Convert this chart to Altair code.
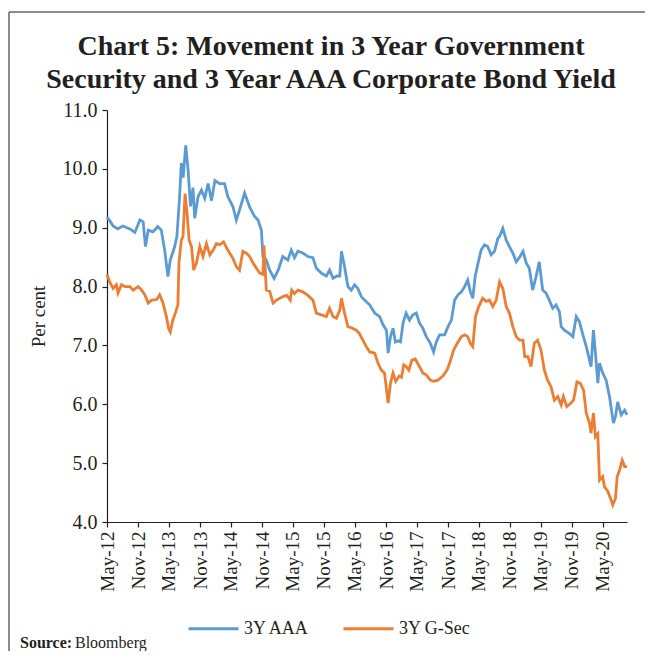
import altair as alt
import pandas as pd

# ---------------- data ----------------
aaa_dates = [
    "2012-05-01", "2012-05-17", "2012-06-06", "2012-07-03", "2012-08-02", "2012-09-13",
    "2012-10-12", "2012-11-11", "2012-11-30", "2012-12-14", "2012-12-30", "2013-01-27",
    "2013-02-24", "2013-03-17", "2013-04-06", "2013-04-25", "2013-05-09", "2013-06-04",
    "2013-06-17", "2013-07-03", "2013-07-13", "2013-07-24", "2013-08-08", "2013-08-22",
    "2013-09-05", "2013-09-20", "2013-09-30", "2013-10-20", "2013-11-09", "2013-11-28",
    "2013-12-18", "2014-01-07", "2014-01-27", "2014-02-24", "2014-03-25", "2014-04-13",
    "2014-05-13", "2014-06-02", "2014-06-21", "2014-07-21", "2014-08-20", "2014-09-18",
    "2014-10-08", "2014-10-28", "2014-11-06", "2014-11-26", "2014-12-16", "2015-01-11",
    "2015-02-04", "2015-03-03", "2015-04-02", "2015-04-22", "2015-05-11", "2015-05-31",
    "2015-06-29", "2015-07-29", "2015-08-28", "2015-09-17", "2015-10-16", "2015-11-15",
    "2015-12-04", "2015-12-24", "2016-01-17", "2016-02-02", "2016-02-12", "2016-03-01",
    "2016-03-21", "2016-04-10", "2016-04-29", "2016-05-18", "2016-06-08", "2016-06-27",
    "2016-07-27", "2016-08-26", "2016-09-24", "2016-10-14", "2016-11-03", "2016-11-13",
    "2016-11-27", "2016-12-12", "2016-12-26", "2017-01-11", "2017-01-25", "2017-02-09",
    "2017-02-27", "2017-03-19", "2017-04-08", "2017-04-28", "2017-05-17", "2017-06-06",
    "2017-06-26", "2017-07-19", "2017-08-08", "2017-08-24", "2017-09-12", "2017-10-12",
    "2017-11-01", "2017-11-21", "2017-12-10", "2017-12-30", "2018-01-19", "2018-02-07",
    "2018-02-25", "2018-03-13", "2018-03-27", "2018-04-10", "2018-04-25", "2018-05-15",
    "2018-06-04", "2018-06-23", "2018-07-13", "2018-08-02", "2018-08-22", "2018-09-01",
    "2018-09-20", "2018-10-10", "2018-10-29", "2018-11-18", "2018-12-08", "2018-12-28",
    "2019-01-17", "2019-02-05", "2019-02-23", "2019-03-15", "2019-04-04", "2019-04-23",
    "2019-05-13", "2019-06-02", "2019-06-21", "2019-07-11", "2019-07-31", "2019-08-20",
    "2019-08-30", "2019-09-18", "2019-10-18", "2019-11-07", "2019-11-27", "2019-12-16",
    "2020-01-05", "2020-01-25", "2020-02-13", "2020-02-22", "2020-03-07", "2020-03-19",
    "2020-04-02", "2020-04-12", "2020-05-01", "2020-05-21", "2020-06-10", "2020-07-03",
    "2020-07-15", "2020-07-28", "2020-08-18", "2020-09-07", "2020-09-21",
]
aaa_values = [
    9.18, 9.12, 9.03, 8.98, 9.03, 8.98,
    8.92, 9.13, 9.10, 8.68, 8.96, 8.93,
    9.02, 8.96, 8.62, 8.17, 8.45, 8.68,
    8.85, 9.53, 10.10, 9.85, 10.40, 9.98,
    9.36, 9.68, 9.16, 9.53, 9.64, 9.50,
    9.75, 9.46, 9.80, 9.75, 9.75, 9.53,
    9.36, 9.13, 9.30, 9.59, 9.35, 9.19,
    9.13, 8.96, 8.51, 8.45, 8.28, 8.14,
    8.28, 8.51, 8.45, 8.62, 8.49, 8.60,
    8.57, 8.51, 8.49, 8.31, 8.23, 8.18,
    8.28, 8.14, 8.18, 8.18, 8.60, 8.34,
    8.00, 7.94, 8.03, 7.97, 7.83, 7.77,
    7.69, 7.55, 7.49, 7.35, 7.26, 6.87,
    7.15, 7.29, 7.06, 7.08, 7.06, 7.38,
    7.55, 7.43, 7.52, 7.55, 7.38, 7.29,
    7.15, 7.04, 6.89, 7.06, 7.18, 7.18,
    7.32, 7.43, 7.77, 7.86, 7.91, 8.00,
    8.11, 7.91, 7.80, 8.17, 8.37, 8.62,
    8.71, 8.68, 8.54, 8.60, 8.82, 8.85,
    8.99, 8.79, 8.68, 8.57, 8.42, 8.50,
    8.60, 8.40, 8.31, 7.94, 8.17, 8.42,
    7.94, 7.89, 7.77, 7.63, 7.69, 7.57,
    7.32, 7.26, 7.20, 7.15, 7.49, 7.40,
    7.18, 6.98, 6.75, 6.64, 7.26, 6.87,
    6.36, 6.70, 6.53, 6.41, 6.13, 5.68,
    5.79, 6.04, 5.82, 5.90, 5.82,
]

gsec_dates = [
    "2012-05-01", "2012-05-17", "2012-06-06", "2012-06-25", "2012-07-05", "2012-07-25",
    "2012-08-14", "2012-09-13", "2012-10-02", "2012-11-01", "2012-11-21", "2012-12-10",
    "2012-12-30", "2013-01-19", "2013-02-18", "2013-03-07", "2013-03-27", "2013-04-16",
    "2013-04-29", "2013-05-09", "2013-05-24", "2013-06-10", "2013-06-23", "2013-06-29",
    "2013-07-13", "2013-07-23", "2013-08-04", "2013-08-16", "2013-08-28", "2013-09-11",
    "2013-09-24", "2013-10-10", "2013-10-30", "2013-11-18", "2013-12-08", "2013-12-28",
    "2014-01-17", "2014-02-05", "2014-02-24", "2014-03-19", "2014-04-13", "2014-05-13",
    "2014-06-02", "2014-06-21", "2014-07-11", "2014-07-31", "2014-08-20", "2014-09-09",
    "2014-09-29", "2014-10-18", "2014-11-06", "2014-11-12", "2014-11-26", "2014-12-16",
    "2015-01-05", "2015-01-25", "2015-02-13", "2015-03-03", "2015-03-27", "2015-04-16",
    "2015-04-25", "2015-05-11", "2015-05-31", "2015-06-29", "2015-07-29", "2015-08-28",
    "2015-09-17", "2015-10-16", "2015-11-15", "2015-12-04", "2015-12-24", "2016-01-13",
    "2016-02-02", "2016-02-12", "2016-03-01", "2016-03-21", "2016-04-10", "2016-05-09",
    "2016-05-28", "2016-06-17", "2016-07-07", "2016-07-27", "2016-08-26", "2016-09-14",
    "2016-10-04", "2016-10-23", "2016-11-13", "2016-11-27", "2016-12-12", "2016-12-28",
    "2017-01-17", "2017-01-31", "2017-02-13", "2017-02-27", "2017-03-15", "2017-04-02",
    "2017-04-22", "2017-05-17", "2017-06-06", "2017-06-26", "2017-07-19", "2017-08-08",
    "2017-09-02", "2017-10-02", "2017-10-26", "2017-11-11", "2017-12-04", "2017-12-24",
    "2018-01-19", "2018-02-07", "2018-02-25", "2018-03-13", "2018-03-27", "2018-04-12",
    "2018-05-01", "2018-05-24", "2018-06-14", "2018-07-03", "2018-07-23", "2018-08-12",
    "2018-09-01", "2018-09-20", "2018-10-10", "2018-10-29", "2018-11-18", "2018-12-08",
    "2018-12-28", "2019-01-17", "2019-01-27", "2019-02-15", "2019-03-05", "2019-03-25",
    "2019-04-13", "2019-05-03", "2019-05-23", "2019-06-11", "2019-07-01", "2019-07-21",
    "2019-08-10", "2019-08-30", "2019-09-12", "2019-10-02", "2019-10-22", "2019-11-11",
    "2019-12-01", "2019-12-20", "2020-01-09", "2020-01-25", "2020-02-13", "2020-02-22",
    "2020-03-07", "2020-03-19", "2020-04-02", "2020-04-12", "2020-05-01", "2020-05-11",
    "2020-05-31", "2020-06-20", "2020-06-29", "2020-07-15", "2020-07-25", "2020-08-08",
    "2020-08-24", "2020-09-07", "2020-09-21",
]
gsec_values = [
    8.20, 8.08, 7.97, 8.03, 7.89, 8.03,
    8.00, 8.00, 7.94, 8.00, 7.94, 7.86,
    7.72, 7.77, 7.78, 7.86, 7.72, 7.49,
    7.29, 7.23, 7.43, 7.57, 7.69, 8.40,
    8.79, 8.85, 9.58, 9.24, 8.79, 8.68,
    8.28, 8.40, 8.68, 8.51, 8.73, 8.54,
    8.62, 8.73, 8.71, 8.76, 8.62, 8.48,
    8.34, 8.28, 8.60, 8.57, 8.51, 8.40,
    8.31, 8.23, 8.21, 8.70, 7.94, 7.92,
    7.72, 7.77, 7.80, 7.83, 7.85, 7.77,
    7.94, 7.88, 7.94, 7.91, 7.85, 7.77,
    7.55, 7.52, 7.49, 7.63, 7.49, 7.46,
    7.60, 7.80, 7.55, 7.32, 7.30, 7.26,
    7.20, 7.09, 6.98, 6.89, 6.87, 6.70,
    6.58, 6.53, 6.02, 6.36, 6.53, 6.39,
    6.48, 6.46, 6.67, 6.64, 6.58, 6.75,
    6.77, 6.64, 6.53, 6.50, 6.41, 6.39,
    6.41, 6.48, 6.58, 6.70, 6.92, 7.03,
    7.15, 7.18, 7.15, 7.03, 6.98, 7.49,
    7.66, 7.80, 7.75, 7.77, 7.66, 7.77,
    8.08, 7.97, 7.66, 7.55, 7.32, 7.15,
    7.09, 7.09, 6.81, 6.81, 6.64, 7.04,
    7.09, 6.92, 6.58, 6.41, 6.30, 6.07,
    6.13, 5.99, 6.13, 5.96, 6.01, 6.07,
    6.38, 6.36, 6.24, 5.85, 5.68, 5.51,
    5.85, 5.45, 5.50, 4.71, 4.77, 4.60,
    4.52, 4.37, 4.29, 4.40, 4.77, 4.88,
    5.05, 4.94, 4.94,
]

series_names = ["3Y AAA", "3Y G-Sec"]
series_colors = ["#5B9BD5", "#ED7D31"]
y_ticks = [4.0, 5.0, 6.0, 7.0, 8.0, 9.0, 10.0, 11.0]
x_tick_months = [(2012, 5), (2012, 11), (2013, 5), (2013, 11), (2014, 5), (2014, 11),
                 (2015, 5), (2015, 11), (2016, 5), (2016, 11), (2017, 5), (2017, 11),
                 (2018, 5), (2018, 11), (2019, 5), (2019, 11), (2020, 5)]
title_lines = ["Chart 5: Movement in 3 Year Government",
               "Security and 3 Year AAA Corporate Bond Yield"]
source_label = "Source:"
source_text = "Bloomberg"

df = pd.concat([
    pd.DataFrame({"date": aaa_dates, "value": aaa_values, "series": series_names[0]}),
    pd.DataFrame({"date": gsec_dates, "value": gsec_values, "series": series_names[1]}),
], ignore_index=True)

FONT = "Liberation Serif"
INK = "#231f20"
PLOT_W, PLOT_H = 520, 412

x_enc = alt.X(
    "date:T",
    scale=alt.Scale(type="utc",
                    domain=[alt.DateTime(year=2012, month=5, date=1, utc=True),
                            alt.DateTime(year=2020, month=9, date=21, utc=True)]),
    axis=alt.Axis(values=[alt.DateTime(year=y, month=m, date=1, utc=True) for y, m in x_tick_months],
                  format="%b-%y", labelAngle=-90, title=None, grid=False,
                  labelFont=FONT, labelFontSize=19, labelColor=INK, labelPadding=4,
                  tickSize=5, tickColor=INK, domainColor=INK, domainWidth=1.2, tickWidth=1.2),
)
y_enc = alt.Y(
    "value:Q",
    scale=alt.Scale(domain=[4, 11], nice=False, zero=False),
    axis=alt.Axis(values=y_ticks, format=".1f", title="Per cent", grid=False,
                  labelFont=FONT, labelFontSize=20, labelColor=INK, labelPadding=5,
                  tickSize=5, tickColor=INK, domainColor=INK, domainWidth=1.2, tickWidth=1.2,
                  titleFont=FONT, titleFontSize=19, titleFontWeight="normal",
                  titleColor=INK, titlePadding=14),
)

lines = alt.Chart(df).mark_line(strokeWidth=2.8).encode(
    x=x_enc,
    y=y_enc,
    color=alt.Color("series:N",
                    scale=alt.Scale(domain=series_names, range=series_colors),
                    legend=alt.Legend(orient="none", legendX=80, legendY=492,
                                      direction="horizontal", title=None,
                                      symbolType="stroke", symbolSize=2500,
                                      symbolStrokeWidth=3, labelFontSize=18,
                                      labelFont=FONT, labelColor=INK,
                                      columnPadding=27, labelOffset=4)),
    detail="series:N",
)

one = pd.DataFrame({"k": [0]})
frame_top = alt.Chart(one).mark_rule(color="#666666", strokeWidth=1.5).encode(
    x=alt.value(-98), x2=alt.value(538), y=alt.value(-98))
frame_left = alt.Chart(one).mark_rule(color="#666666", strokeWidth=1.5).encode(
    x=alt.value(-98), y=alt.value(-98), y2=alt.value(560))
title_1 = alt.Chart(one).mark_text(align="center", baseline="alphabetic", font=FONT,
                                   fontSize=28, fontWeight="bold", color=INK).encode(
    x=alt.value(224), y=alt.value(-55), text=alt.value(title_lines[0]))
title_2 = alt.Chart(one).mark_text(align="center", baseline="alphabetic", font=FONT,
                                   fontSize=28, fontWeight="bold", color=INK).encode(
    x=alt.value(224), y=alt.value(-22), text=alt.value(title_lines[1]))
source_b = alt.Chart(one).mark_text(align="left", baseline="alphabetic", font=FONT,
                                    fontSize=16, fontWeight="bold", color=INK).encode(
    x=alt.value(-87), y=alt.value(538), text=alt.value(source_label))
source_t = alt.Chart(one).mark_text(align="left", baseline="alphabetic", font=FONT,
                                    fontSize=16, color=INK).encode(
    x=alt.value(-32), y=alt.value(538), text=alt.value(source_text))

chart = alt.layer(lines, frame_top, frame_left, title_1, title_2, source_b, source_t).properties(
    width=PLOT_W, height=PLOT_H,
    autosize=alt.AutoSizeParams(type="none"),
    padding={"left": 99, "top": 102, "right": 18, "bottom": 129},
    background="white",
).configure_view(stroke=None)

chart.save("out.html", embed_options={"renderer": "svg", "actions": False})
